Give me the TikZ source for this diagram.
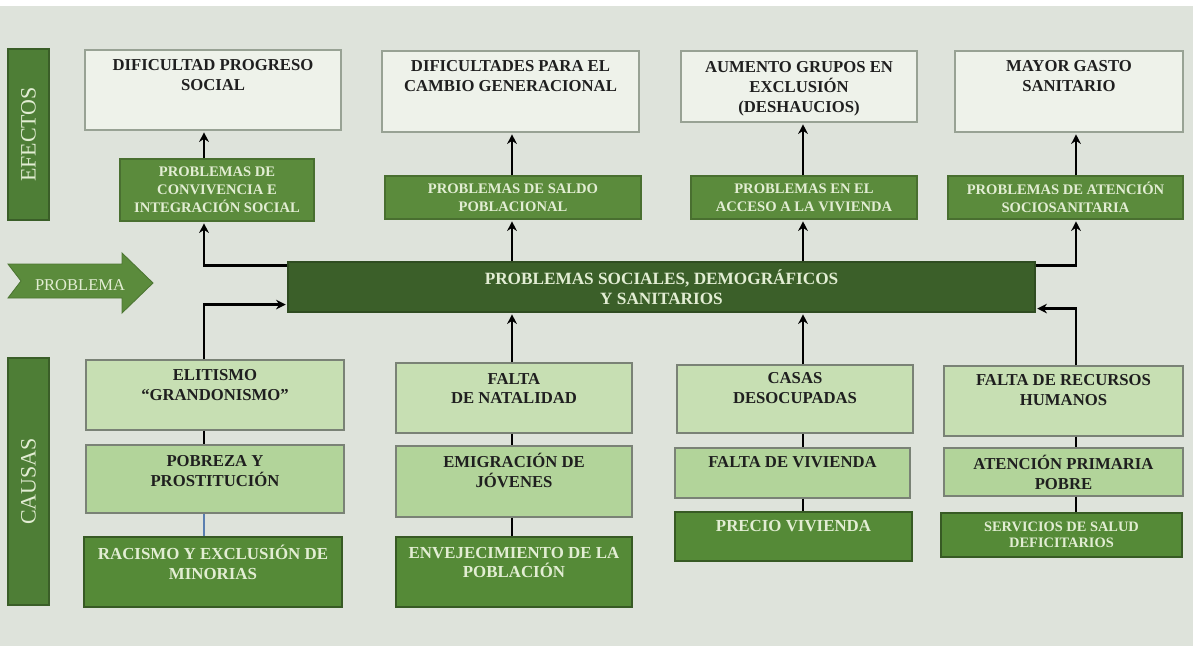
\documentclass[tikz,border=0pt]{standalone}
\usepackage{fontspec}
\setmainfont{Liberation Serif}
\usepackage{xcolor}
\usetikzlibrary{arrows.meta}
\usetikzlibrary{calc}
\usetikzlibrary{fit}

\definecolor{fondo}{HTML}{DEE3DB}
\definecolor{efecto}{HTML}{EEF2EA}
\definecolor{borde}{HTML}{98A294}
\definecolor{medio}{HTML}{5B8B3C}
\definecolor{central}{HTML}{3B5F29}
\definecolor{barra}{HTML}{4E7E36}
\definecolor{claro}{HTML}{E2EDD3}
\definecolor{causaA}{HTML}{C7DFB3}
\definecolor{causaB}{HTML}{B2D49A}
\definecolor{causaC}{HTML}{558A37}
\definecolor{azul}{HTML}{5A7FB0}

% caja rectangular dada por sus esquinas (en px)
\newcommand{\caja}[6]{\node[#2, inner sep=0pt, fit={(#3,#4) (#5,#6)}] (#1) {};}

\tikzset{
  efbox/.style={fill=efecto, draw=borde, line width=0.6pt},
  mdbox/.style={fill=medio, draw=medio!80!black, line width=0.6pt},
  cnbox/.style={fill=central, draw=central!80!black, line width=0.6pt},
  barbox/.style={fill=barra, draw=barra!75!black, line width=0.8pt},
  caA/.style={fill=causaA, draw=borde!80!black, line width=0.6pt},
  caB/.style={fill=causaB, draw=borde!80!black, line width=0.6pt},
  caC/.style={fill=causaC, draw=causaC!65!black, line width=0.6pt},
  txtosc/.style={align=center, text=black!88, font=\bfseries\fontsize{9.5}{11.3}\selectfont},
  txtmed/.style={align=center, text=claro, font=\bfseries\fontsize{8.3}{10.2}\selectfont},
  txtcla/.style={align=center, text=claro, font=\bfseries\fontsize{9.6}{11.3}\selectfont},
  lbl/.style={text=claro, font=\fontsize{12.5}{14}\selectfont},
  flecha/.style={->,>={Stealth[length=5.5pt,width=5.5pt]},ultra thick,shorten >=1pt},
  enlace/.style={ultra thick},
}

\begin{document}
\begin{tikzpicture}[x=0.02cm,y=-0.02cm]
        \useasboundingbox (0,0) rectangle (1193,646);
        \fill[fondo] (0,6) rectangle (1193,646);

        % columnas de las flechas
        \coordinate (xa) at (204,0);
        \coordinate (xb) at (512,0);
        \coordinate (xc) at (803,0);
        \coordinate (xd) at (1076,0);

        %------------------
        % barras laterales
        %------------------
        \caja{befec}{barbox}{8}{49}{49}{220}
        \node[lbl, rotate=90] (tefec) at (befec.center) {EFECTOS};
        \caja{bcaus}{barbox}{8}{358}{49}{605}
        \node[lbl, rotate=90] (tcaus) at (bcaus.center) {CAUSAS};

        % flecha PROBLEMA
        \filldraw[fill=medio, draw=medio!85!black, line width=0.5pt]
          (8,264) -- (122,264) -- (122,253) -- (153,283) -- (122,313)
          -- (122,298) -- (8,298) -- (21,281) -- cycle;
        \node[lbl, font=\fontsize{9.4}{11}\selectfont] (tprob) at (80,285) {PROBLEMA};

        %------------------
        % efectos
        %------------------
        \caja{e1}{efbox}{85}{50}{341}{130}
        \caja{e2}{efbox}{382}{51}{639}{132}
        \caja{e3}{efbox}{681}{51}{917}{122}
        \caja{e4}{efbox}{955}{51}{1183}{132}
        \node[txtosc] (e1t) at ($(e1.north)+(0,26)$) {DIFICULTAD PROGRESO\\SOCIAL};
        \node[txtosc] (e2t) at ($(e2.north)+(0,26)$) {DIFICULTADES PARA EL\\CAMBIO GENERACIONAL};
        \node[txtosc] (e3t) at ($(e3.north)+(0,38)$) {AUMENTO GRUPOS EN\\EXCLUSIÓN\\(DESHAUCIOS)};
        \node[txtosc] (e4t) at ($(e4.north)+(0,26)$) {MAYOR GASTO\\SANITARIO};

        \caja{m1}{mdbox}{120}{159}{314}{221}
        \caja{m2}{mdbox}{385}{176}{641}{219}
        \caja{m3}{mdbox}{691}{176}{917}{219}
        \caja{m4}{mdbox}{948}{176}{1183}{219}
        \node[txtmed] (m1t) at (m1) {PROBLEMAS DE\\CONVIVENCIA E\\INTEGRACIÓN SOCIAL};
        \node[txtmed] (m2t) at (m2) {PROBLEMAS DE SALDO\\POBLACIONAL};
        \node[txtmed] (m3t) at (m3) {PROBLEMAS EN EL\\ACCESO A LA VIVIENDA};
        \node[txtmed] (m4t) at (m4) {PROBLEMAS DE ATENCIÓN\\SOCIOSANITARIA};

        %------------------
        % problema central
        %------------------
        \caja{c}{cnbox}{288}{262}{1035}{312}
        \node[txtcla, font=\bfseries\fontsize{9.8}{11.4}\selectfont] (ct) at (c)
          {PROBLEMAS SOCIALES, DEMOGRÁFICOS\\Y SANITARIOS};

        %------------------
        % causas
        %------------------
        \caja{k1}{caA}{86}{360}{344}{430}
        \caja{p1}{caB}{86}{445}{344}{513}
        \caja{r1}{caC}{84}{537}{342}{607}
        \caja{k2}{caA}{396}{363}{632}{433}
        \caja{p2}{caB}{396}{446}{632}{517}
        \caja{r2}{caC}{396}{537}{632}{607}
        \caja{k3}{caA}{677}{365}{913}{433}
        \caja{p3}{caB}{675}{448}{910}{498}
        \caja{r3}{caC}{675}{512}{912}{561}
        \caja{k4}{caA}{944}{366}{1183}{436}
        \caja{p4}{caB}{944}{448}{1183}{496}
        \caja{r4}{caC}{941}{513}{1182}{557}

        \node[txtosc] (k1t) at ($(k1.north)+(0,26)$) {ELITISMO\\``GRANDONISMO''};
        \node[txtosc] (p1t) at ($(p1.north)+(0,27)$) {POBREZA Y\\PROSTITUCIÓN};
        \node[txtcla] (r1t) at ($(r1.north)+(0,26)$) {RACISMO Y EXCLUSIÓN DE\\MINORIAS};
        \node[txtosc] (k2t) at ($(k2.north)+(0,26)$) {FALTA\\DE NATALIDAD};
        \node[txtosc] (p2t) at ($(p2.north)+(0,25)$) {EMIGRACIÓN DE\\JÓVENES};
        \node[txtcla] (r2t) at ($(r2.north)+(0,26)$) {ENVEJECIMIENTO DE LA\\POBLACIÓN};
        \node[txtosc] (k3t) at ($(k3.north)+(0,24)$) {CASAS\\DESOCUPADAS};
        \node[txtosc] (p3t) at ($(p3.north)+(0,15)$) {FALTA DE VIVIENDA};
        \node[txtcla] (r3t) at ($(r3.north)+(0,15)$) {PRECIO VIVIENDA};
        \node[txtosc] (k4t) at ($(k4.north)+(0,25)$) {FALTA DE RECURSOS\\HUMANOS};
        \node[txtosc] (p4t) at ($(p4.north)+(0,25)$) {ATENCIÓN PRIMARIA\\POBRE};
        \node[txtcla, font=\bfseries\fontsize{8.2}{9.2}\selectfont] (r4t) at (r4) {SERVICIOS DE SALUD\\DEFICITARIOS};

        %------------------
        % flechas
        %------------------
        \draw[flecha] ($(c.north west)+(0,4)$) -| (xa |- m1.south);
        \draw[flecha] (xa |- m1.north) -- (xa |- e1.south);
        \draw[flecha] (xb |- c.north) -- (xb |- m2.south);
        \draw[flecha] (xb |- m2.north) -- (xb |- e2.south);
        \draw[flecha] (xc |- c.north) -- (xc |- m3.south);
        \draw[flecha] (xc |- m3.north) -- (xc |- e3.south);
        \draw[flecha] ($(c.north east)+(0,4)$) -| (xd |- m4.south);
        \draw[flecha] (xd |- m4.north) -- (xd |- e4.south);

        \draw[flecha] (xa |- k1.north) |- ($(c.south west)+(0,-8)$);
        \draw[flecha] (xb |- k2.north) -- (xb |- c.south);
        \draw[flecha] (xc |- k3.north) -- (xc |- c.south);
        \draw[flecha] (xd |- k4.north) |- ($(c.south east)+(0,-4)$);

        % enlaces entre causas
        \draw[enlace] (xa |- k1.south) -- (xa |- p1.north);
        \draw[azul, thick] (xa |- p1.south) -- (xa |- r1.north);
        \draw[enlace] (xb |- k2.south) -- (xb |- p2.north);
        \draw[enlace] (xb |- p2.south) -- (xb |- r2.north);
        \draw[enlace] (xc |- k3.south) -- (xc |- p3.north);
        \draw[enlace] (xc |- p3.south) -- (xc |- r3.north);
        \draw[enlace] (xd |- k4.south) -- (xd |- p4.north);
        \draw[enlace] (xd |- p4.south) -- (xd |- r4.north);
\end{tikzpicture}
\end{document}
